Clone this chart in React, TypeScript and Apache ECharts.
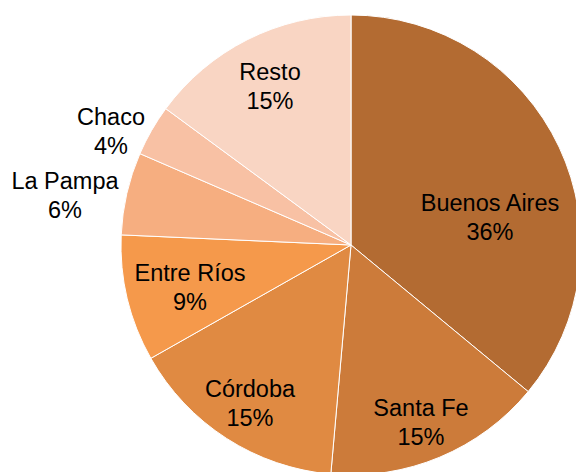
import React, { useEffect, useRef } from "react";
import * as echarts from "echarts";

const categories = ["Buenos Aires", "Santa Fe", "Córdoba", "Entre Ríos", "La Pampa", "Chaco", "Resto"];
// shares; labels show rounded percentages
const shares = [36.0, 15.4, 15.4, 8.9, 5.8, 3.6, 14.9];
const colors = ["#B36B32", "#CC7B3A", "#E08A42", "#F5994B", "#F6AE80", "#F8C1A4", "#F9D5C3"];
const labelSpots: Record<string, [number, number]> = {
  "Buenos Aires": [490, 217],
  "Santa Fe": [421, 422],
  "Córdoba": [250, 403],
  "Entre Ríos": [190, 287],
  "La Pampa": [65, 195],
  "Chaco": [111, 131],
  "Resto": [270, 86],
};

export default function App() {
  const ref = useRef<HTMLDivElement>(null);
  useEffect(() => {
    if (!ref.current) return;
    const chart = echarts.init(ref.current, undefined, { renderer: "svg" });
    chart.setOption({
      animation: false,
      backgroundColor: "#ffffff",
      series: [
        {
          type: "pie",
          center: [351, 245],
          radius: 230,
          startAngle: 90,
          clockwise: true,
          silent: true,
          avoidLabelOverlap: false,
          itemStyle: { borderColor: "#ffffff", borderWidth: 1 },
          label: {
            show: true,
            position: "inside",
            formatter: (p: any) => `${p.name}\n${Math.round(p.value)}%`,
            fontFamily: "Liberation Sans, Arial, sans-serif",
            fontSize: 23.5,
            lineHeight: 29,
            color: "#000000",
            align: "center",
          },
          labelLine: { show: false },
          labelLayout: (params: any) => {
            const name = categories[params.dataIndex];
            const p = labelSpots[name];
            return { x: p[0], y: p[1], align: "center", verticalAlign: "middle" };
          },
          data: categories.map((name, i) => ({
            name,
            value: shares[i],
            itemStyle: { color: colors[i] },
          })),
        },
      ],
    });
    return () => chart.dispose();
  }, []);
  return (
    <div
      ref={ref}
      style={{ position: "fixed", left: 0, top: 0, width: 576, height: 472 }}
    />
  );
}
